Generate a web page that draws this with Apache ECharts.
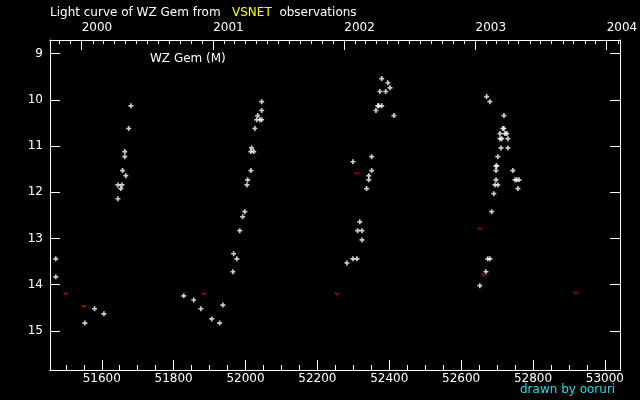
<!DOCTYPE html>
<html><head><meta charset="utf-8">
<script src="https://cdn.jsdelivr.net/npm/echarts@6/dist/echarts.min.js"></script>
<style>html,body{margin:0;background:#000}#c{width:640px;height:400px}</style>
</head><body><div id="c"></div>
<script>
// Observations (MJD, visual magnitude)
const obsMJD = [51472,51472,51553,51580,51606,51645,51645,51656,51653,51658,51667,51664,51664,51675,51681,
  51828,51856,51876,51906,51928,51937,51965,51967,51976,51984,51992,51998,52004,52006,52015,52015,52023,52017,52026,52031,52040,52045,52034,52045,52045,
  52282,52299,52310,52324,52312,52324,52318,52337,52343,52343,52351,52299,52351,52363,52368,52371,52379,52374,52390,52402,52396,52379,52413,
  52652,52669,52674,52680,52685,52691,52694,52702,52697,52697,52697,52699,52702,52711,52730,52708,52713,52730,52708,52722,52727,52716,52719,52719,52680,52671,52744,52750,52755,52761,52758];
const obsMag = [13.44,13.83,14.83,14.52,14.63,12.14,11.84,11.84,11.92,11.53,11.64,11.12,11.23,10.62,10.13,
  14.24,14.33,14.52,14.74,14.83,14.44,13.72,13.33,13.44,12.83,12.53,12.42,11.84,11.73,11.53,11.12,11.12,11.04,10.62,10.43,10.43,10.43,10.34,10.23,10.04,
  13.53,13.44,13.44,13.03,12.83,12.83,12.64,11.92,11.73,11.64,11.53,11.34,11.23,10.23,10.13,10.13,10.13,9.82,9.82,9.74,9.63,9.54,10.34,
  14.02,13.72,13.44,13.44,12.42,12.03,11.84,11.84,11.73,11.53,11.43,11.43,11.23,11.04,11.04,10.84,10.84,10.84,10.73,10.73,10.73,10.62,10.62,10.34,10.04,9.93,11.53,11.73,11.73,11.73,11.92];
// Fainter-than limits
const limMJD = [51500,51550,51884,52254,52310,52652,52663,52919];
const limMag = [14.20,14.47,14.20,14.20,11.60,12.79,13.79,14.18];
// Tick labels
const mjdTicks = [51600,51800,52000,52200,52400,52600,52800,53000];
const magTicks = [9,10,11,12,13,14,15];
const yearLabels = [2000,2001,2002,2003,2004];

const X_MIN = 51456, X_MAX = 53042, Y_MIN = 8.705, Y_MAX = 15.845;
const FONT = 'DejaVu Sans';

function mjdOf(y, m) { return Math.round(Date.UTC(y, m, 1) / 86400000) + 40587; }
const yearTicks = yearLabels.map(y => mjdOf(y, 0));
const monthTicks = [];
for (let y = 1999; y <= 2004; y++) for (let m = 0; m < 12; m++) {
  const v = mjdOf(y, m); if (v > X_MIN && v < X_MAX) monthTicks.push(v);
}
const minorTicks = [];
for (let v = 51500; v < X_MAX; v += 50) minorTicks.push(v);

const obsData = obsMJD.map((x, i) => [x, obsMag[i]]);
const limData = limMJD.map((x, i) => [x, limMag[i]]);

const lineStyle = { color: '#fff', width: 1 };
function xAx(pos, opts) {
  return Object.assign({
    type: 'value', position: pos, min: X_MIN, max: X_MAX,
    axisLine: { show: true, lineStyle }, splitLine: { show: false },
    axisTick: { show: false }, axisLabel: { show: false }
  }, opts);
}
function yAx(pos, showLabel) {
  return {
    type: 'value', position: pos, inverse: true, min: Y_MIN, max: Y_MAX,
    axisLine: { show: true, lineStyle }, splitLine: { show: false },
    axisTick: { show: true, inside: true, length: 10, lineStyle, customValues: magTicks },
    axisLabel: { show: showLabel, color: '#fff', fontFamily: FONT, fontSize: 12, margin: 7, customValues: magTicks }
  };
}

const chart = echarts.init(document.getElementById('c'), null, { renderer: 'canvas' });
chart.setOption({
  backgroundColor: '#000',
  animation: false,
  grid: { left: 50, right: 20, top: 40, bottom: 30, containLabel: false, outerBoundsMode: 'none' },
  title: {
    left: 50, top: 7, padding: 0,
    text: '{a|Light curve of WZ Gem from}   {b|VSNET}  {a|observations}',
    textStyle: { fontWeight: 'normal', fontSize: 12, fontFamily: FONT, color: '#fff', rich: {
      a: { color: '#fff', fontFamily: FONT, fontSize: 12, fontWeight: 'normal' },
      b: { color: '#ffff00', fontFamily: FONT, fontSize: 12, fontWeight: 'normal' }
    } }
  },
  xAxis: [
    xAx('bottom', {
      axisTick: { show: true, inside: true, length: 10, lineStyle, customValues: mjdTicks },
      axisLabel: { show: true, color: '#fff', fontFamily: FONT, fontSize: 12, margin: 3, customValues: mjdTicks,
        formatter: v => String(Math.round(v)) }
    }),
    xAx('bottom', { axisTick: { show: true, inside: true, length: 5, lineStyle, customValues: minorTicks } }),
    xAx('top', {
      axisTick: { show: true, inside: true, length: 10, lineStyle, customValues: yearTicks },
      axisLabel: { show: true, color: '#fff', fontFamily: FONT, fontSize: 12, margin: 6, align: 'left',
        customValues: yearTicks,
        formatter: v => { let best = 0; yearTicks.forEach((t, i) => { if (Math.abs(t - v) < Math.abs(yearTicks[best] - v)) best = i; }); return String(yearLabels[best]); } }
    }),
    xAx('top', { axisTick: { show: true, inside: true, length: 4, lineStyle, customValues: monthTicks } })
  ],
  yAxis: [yAx('left', true), yAx('right', false)],
  graphic: [
    { type: 'text', left: 150, top: 53, style: { text: 'WZ Gem (M)', fill: '#fff', font: '12px "DejaVu Sans"' } },
    { type: 'text', left: 520, top: 384, style: { text: 'drawn by ooruri', fill: '#22dde8', font: '12px "DejaVu Sans"' } }
  ],
  series: [
    { type: 'scatter', xAxisIndex: 0, yAxisIndex: 0, data: obsData,
      symbol: 'path://M1,0H2V1H3V2H2V3H1V2H0V1H1Z', symbolSize: 5,
      itemStyle: { color: '#fff' }, silent: true },
    { type: 'scatter', xAxisIndex: 0, yAxisIndex: 0, data: limData,
      symbol: 'path://M0,0L1.8,0L3,1.6L4.2,0L6,0L3,3Z', symbolSize: [6, 3],
      itemStyle: { color: '#ff0000' }, silent: true }
  ]
});
</script></body></html>
